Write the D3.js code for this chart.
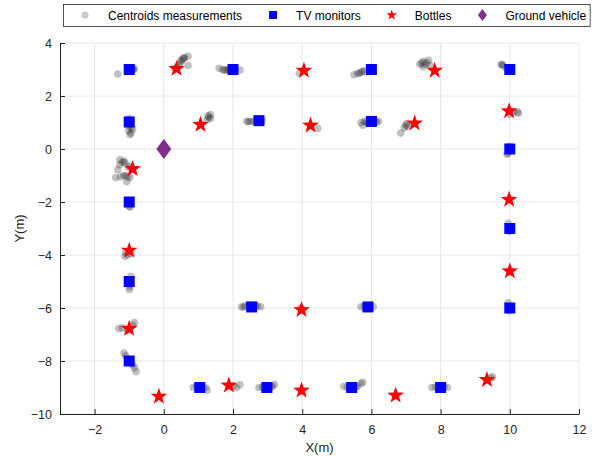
<!DOCTYPE html>
<html>
<head>
<meta charset="utf-8">
<script src="https://cdn.jsdelivr.net/npm/d3@7"></script>
<style>
  body { margin: 0; background: #fff; }
  text { font-family: "Liberation Sans", Arial, sans-serif; }
</style>
</head>
<body>
<div id="chart"></div>
<script>
// positions of the objects (m)
var monitors = [
  [-1, 3], [2, 3], [6, 3], [10, 3],
  [-1, 1.02], [2.75, 1.07], [6, 1.04], [10, 0],
  [-1, -2], [10, -3], [-1, -5], [10, -6], [-1, -8],
  [2.54, -5.96], [5.9, -5.96],
  [1.04, -9], [2.98, -9], [5.43, -9], [8, -9]
];
var bottles = [
  [0.37, 3.06], [4.05, 2.99], [7.83, 2.99],
  [1.06, 0.95], [4.24, 0.92], [7.25, 1.0], [9.98, 1.46],
  [-0.9, -0.72], [-1.0, -3.8], [-1.0, -6.75], [-0.14, -9.31],
  [9.98, -1.88], [10, -4.58], [9.34, -8.68],
  [3.98, -6.04], [1.88, -8.89], [3.98, -9.08], [6.7, -9.27]
];
var vehicle = [[0, 0]];

var centroids = [
  [-0.95, 3.0], [-0.9, 3.02], [-0.85, 3.05], [-0.88, 2.98], [-1.33, 2.83], [-0.92, 3.03],
  [0.4, 3.1], [0.45, 3.2], [0.5, 3.3], [0.55, 3.4], [0.6, 3.45], [0.7, 3.5], [0.7, 3.15], [0.3, 3.05], [0.5, 3.35], [0.58, 3.42],
  [1.6, 3.05], [1.7, 3.0], [1.8, 2.98], [1.9, 3.0], [2.05, 2.98], [2.2, 2.98], [1.75, 2.97], [1.85, 2.99],
  [3.92, 2.85],
  [5.5, 2.8], [5.6, 2.85], [5.7, 2.9], [5.8, 2.95], [6.05, 2.98], [5.65, 2.86], [5.75, 2.92],
  [7.4, 3.2], [7.5, 3.3], [7.6, 3.25], [7.7, 3.15], [7.5, 3.1], [7.65, 3.35], [7.45, 3.25], [7.55, 3.2],
  [9.75, 3.2], [9.8, 3.15], [9.9, 3.05], [9.78, 3.18],
  [-1.0, 1.15], [-0.95, 1.05], [-1, 0.9], [-0.95, 0.8], [-0.9, 0.75], [-1.02, 0.7], [-0.98, 0.55], [-0.95, 0.6],
  [1.25, 1.1], [1.3, 1.2], [1.35, 1.3], [1.35, 1.15], [1.28, 1.25],
  [2.4, 1.05], [2.5, 1.05], [2.6, 1.05], [2.85, 1.08], [2.45, 1.03],
  [4.45, 0.78],
  [5.7, 1.0], [5.8, 1.05], [5.9, 0.98], [6.1, 1.05], [6.2, 1.05], [5.75, 0.9], [5.85, 1.02], [6.15, 1.02],
  [7.0, 0.9], [7.05, 0.85], [6.95, 0.8], [6.85, 0.6], [7.02, 0.95],
  [10.1, 1.4], [10.25, 1.35], [10.0, 1.3], [10.22, 1.4],
  [9.95, -0.15], [9.98, 0.1], [9.92, -0.2],
  [-1.27, -0.4], [-1.13, -0.52], [-0.98, -0.63], [-1.33, -0.78], [-1.16, -1.0], [-1.39, -1.08],
  [-0.98, -1.08], [-1.07, -1.23], [-1.27, -0.59], [-1.2, -0.5], [-1.05, -1.05], [-1.25, -1.05],
  [-1.15, -0.45], [-1.1, -1.0], [-1.02, -0.7],
  [-1, -2.15], [-0.98, -2.2],
  [-1.1, -3.9], [-1.05, -4.0], [-0.95, -3.95], [-1.12, -4.05],
  [-0.95, -4.8], [-0.98, -5.2], [-1.0, -5.3], [-0.97, -5.1],
  [-0.85, -6.55], [-0.9, -6.65], [-1.2, -6.75], [-1.3, -6.78], [-1.05, -6.85],
  [-1.15, -7.7], [-1.1, -7.8], [-0.9, -8.15], [-0.85, -8.25], [-0.8, -8.4],
  [0.85, -9.0], [0.95, -8.95], [1.2, -9.0], [1.25, -9.1],
  [2.0, -8.95], [2.1, -9.0], [2.2, -8.9],
  [2.75, -9.0], [2.85, -8.98], [3.15, -8.95], [3.2, -8.88], [3.1, -8.97],
  [5.2, -8.95], [5.3, -9.0], [5.6, -8.95], [5.7, -8.85], [5.75, -8.8], [5.55, -8.98],
  [7.75, -9.0], [7.85, -8.98], [8.1, -8.98], [8.2, -9.0],
  [9.45, -8.65], [9.5, -8.6],
  [2.25, -5.95], [2.35, -5.92], [2.45, -5.9], [2.7, -5.93], [2.8, -5.95], [2.3, -5.97], [2.65, -5.9],
  [3.95, -6.0], [4.02, -6.08],
  [5.7, -5.95], [5.8, -5.93], [6.05, -5.95],
  [9.95, -5.8], [9.98, -6.1],
  [9.95, -2.8], [9.98, -3.1]
];

var xTicks = [-2, 0, 2, 4, 6, 8, 10, 12];
var yTicks = [-10, -8, -6, -4, -2, 0, 2, 4];
var legendItems = ["Centroids measurements", "TV monitors", "Bottles", "Ground vehicle"];

var W = 598, H = 456;
var margin = {top: 43, right: 19, bottom: 42, left: 60};
var width = W - margin.left - margin.right,
    height = H - margin.top - margin.bottom;

var svg = d3.select("#chart").append("svg")
    .attr("width", W).attr("height", H);

var g = svg.append("g")
    .attr("transform", "translate(" + margin.left + "," + margin.top + ")");

var x = d3.scaleLinear().domain([-3, 12]).range([0, width]);
var y = d3.scaleLinear().domain([-10, 4]).range([height, 0]);

// grid
g.append("g").selectAll("line").data(xTicks).enter().append("line")
    .attr("x1", d => x(d)).attr("x2", d => x(d))
    .attr("y1", 0).attr("y2", height)
    .style("stroke", "#e6e6e6");
g.append("g").selectAll("line").data(yTicks).enter().append("line")
    .attr("x1", 0).attr("x2", width)
    .attr("y1", d => y(d)).attr("y2", d => y(d))
    .style("stroke", "#e6e6e6");

// axes
var xAxis = g.append("g").attr("transform", "translate(0," + height + ")")
    .call(d3.axisBottom(x).tickValues(xTicks).tickSizeInner(-5).tickSizeOuter(0).tickPadding(11));
var yAxis = g.append("g")
    .call(d3.axisLeft(y).tickValues(yTicks).tickSizeInner(-5).tickSizeOuter(0).tickPadding(8));
[xAxis, yAxis].forEach(function(a) {
  a.select(".domain").style("stroke", "#262626");
  a.selectAll(".tick line").style("stroke", "#262626");
  a.selectAll(".tick text").style("fill", "#262626").style("font-size", "12.5px")
    .style("font-family", "'Liberation Sans', Arial, sans-serif");
});

svg.append("text")
    .attr("x", margin.left + width / 2).attr("y", H - 4)
    .attr("text-anchor", "middle").style("font-size", "13px").style("fill", "#262626")
    .text("X(m)");
svg.append("text")
    .attr("transform", "translate(24," + (margin.top + height / 2) + ") rotate(-90)")
    .attr("text-anchor", "middle").style("font-size", "13px").style("fill", "#262626")
    .text("Y(m)");

// marks
g.append("g").selectAll("circle").data(centroids).enter().append("circle")
    .attr("cx", d => x(d[0])).attr("cy", d => y(d[1]))
    .attr("r", 3.8)
    .style("fill", "#333").style("fill-opacity", 0.3);

var sq = 11;
g.append("g").selectAll("rect").data(monitors).enter().append("rect")
    .attr("x", d => x(d[0]) - sq / 2).attr("y", d => y(d[1]) - sq / 2)
    .attr("width", sq).attr("height", sq)
    .style("fill", "#0000ff");

function starPath(R, r) {
  var pts = [];
  for (var i = 0; i < 10; i++) {
    var a = -Math.PI / 2 + i * Math.PI / 5;
    var rad = i % 2 === 0 ? R : r;
    pts.push([rad * Math.cos(a), rad * Math.sin(a)]);
  }
  return "M" + pts.map(p => p[0].toFixed(2) + "," + p[1].toFixed(2)).join("L") + "Z";
}
g.append("g").selectAll("path").data(bottles).enter().append("path")
    .attr("d", starPath(8.8, 3.5))
    .attr("transform", d => "translate(" + x(d[0]) + "," + (y(d[1]) + 0.8) + ")")
    .style("fill", "#ff0000");

g.append("g").selectAll("path").data(vehicle).enter().append("path")
    .attr("d", "M0,-10L7.5,0L0,10L-7.5,0Z")
    .attr("transform", d => "translate(" + x(d[0]) + "," + y(d[1]) + ")")
    .style("fill", "#7e2f8e");

// legend
var legend = svg.append("g");
var box = legend.append("rect")
    .attr("x", 63.5).attr("y", 4.5).attr("height", 22)
    .style("fill", "#fff").style("stroke", "#262626").style("stroke-width", 0.8);

var symbols = [
  s => s.append("circle").attr("r", 3.6).style("fill", "#c9c9c9"),
  s => s.append("rect").attr("x", -4).attr("y", -4).attr("width", 8).attr("height", 8).style("fill", "#0000ff"),
  s => s.append("path").attr("d", starPath(5.5, 2.2)).style("fill", "#ff0000"),
  s => s.append("path").attr("d", "M0,-6L4.5,0L0,6L-4.5,0Z").style("fill", "#7e2f8e")
];
var cx = 85;
legendItems.forEach(function(label, i) {
  var item = legend.append("g").attr("transform", "translate(" + cx + ",15)");
  symbols[i](item);
  var t = legend.append("text")
      .attr("x", cx + 23).attr("y", 19.5)
      .style("font-size", "12px").style("fill", "#000")
      .text(label);
  var w = t.node().getComputedTextLength();
  cx = cx + 23 + w + 31;
});
box.attr("width", cx - 31 + 4 - 63.5);
</script>
</body>
</html>
